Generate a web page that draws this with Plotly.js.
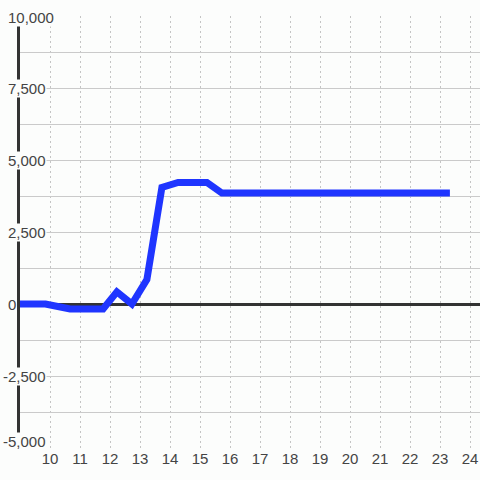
<!DOCTYPE html>
<html>
<head>
<meta charset="utf-8">
<script src="https://cdn.plot.ly/plotly-3.0.1.min.js"></script>
<style>
html,body{margin:0;padding:0;background:#fcfdfc;}
#chart{width:480px;height:480px;}
</style>
</head>
<body>
<div id="chart"></div>
<script>
// Data (hours of day vs value)
const hours  = [9, 9.85, 10.67, 11.77, 12.23, 12.73, 13.23, 13.73, 14.27, 15.23, 15.73, 23.33];
const values = [0, 0, -175, -175, 420, 0, 850, 4050, 4220, 4220, 3850, 3850];

const xTickVals = [10, 11, 12, 13, 14, 15, 16, 17, 18, 19, 20, 21, 22, 23, 24];
const xTickText = ["10","11","12","13","14","15","16","17","18","19","20","21","22","23","24"];
const yTickVals = [10000, 7500, 5000, 2500, 0, -2500, -5000];
const yTickText = ["10,000", "7,500", "5,000", "2,500", "0", "-2,500", "-5,000"];
const yMinorVals = [8750, 6250, 3750, 1250, -1250, -3750];

const bg = "#fcfdfc";
const fontFam = "Liberation Sans, Arial, sans-serif";
const W = 480, H = 480, mL = 20, mR = 0, mT = 16, mB = 32;
const plotW = W - mL - mR;

// y tick labels as annotations with background (masking the axis line)
const yAnn = yTickVals.map((v, i) => {
  const txt = yTickText[i];
  let ys = 0;
  if (i === 0) ys = -1;
  if (i === yTickVals.length - 1) ys = 7;
  return {
    xref: "paper", yref: "y",
    x: (7 - mL) / plotW, y: v,
    xanchor: "left", yanchor: "middle",
    xshift: txt.startsWith("-") ? -5 : 0,
    yshift: ys,
    text: txt, showarrow: false,
    font: {family: fontFam, size: 15, color: "#444"},
    bgcolor: bg, borderpad: 0
  };
});

const traces = [
  {
    x: hours, y: values, type: "scatter", mode: "lines",
    line: {color: "#1f35ff", width: 7},
    hoverinfo: "skip"
  }
];

const layout = {
  width: W, height: H,
  margin: {l: mL, r: mR, t: mT, b: mB, pad: 0},
  paper_bgcolor: bg, plot_bgcolor: bg,
  showlegend: false,
  font: {family: fontFam, size: 15, color: "#444"},
  xaxis: {
    range: [9, 9 + plotW / 30],
    tickmode: "array", tickvals: xTickVals, ticktext: xTickText,
    showgrid: true, gridcolor: "#c4c4c4", gridwidth: 1, griddash: "2px,3px",
    zeroline: false, showline: false, ticks: "",
    tickfont: {family: fontFam, size: 15, color: "#444"},
    fixedrange: true
  },
  yaxis: {
    range: [-5000, 10000],
    tickmode: "array", tickvals: yTickVals.concat(yMinorVals),
    ticktext: yTickVals.map(() => "").concat(yMinorVals.map(() => "")),
    showticklabels: false,
    showgrid: true, gridcolor: "#cacaca", gridwidth: 1,
    zeroline: true, zerolinecolor: "#333", zerolinewidth: 3,
    showline: true, linecolor: "#333", linewidth: 3,
    ticks: "", fixedrange: true
  },
  annotations: yAnn
};

Plotly.newPlot("chart", traces, layout, {displayModeBar: false, staticPlot: true});
</script>
</body>
</html>
